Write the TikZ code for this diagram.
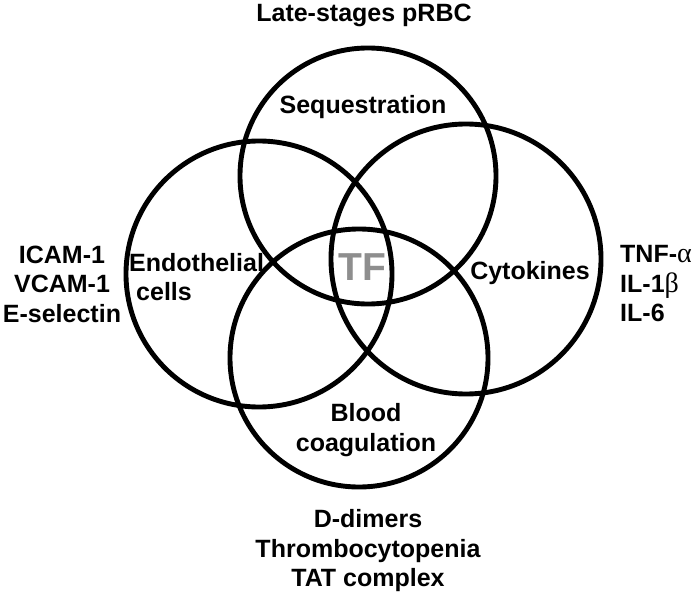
\documentclass[tikz,border=0pt]{standalone}
\usepackage{fontspec}
\setmainfont{Liberation Sans}
\newfontfamily\grkfont{Liberation Serif}
\definecolor{tfgray}{HTML}{8E8E8E}
\begin{document}
\begin{tikzpicture}[x=1pt,y=-1pt,
  ring/.style={draw=black,line width=4.9pt},
  lbl/.style={font=\fontsize{25}{29.5}\selectfont\bfseries,inner sep=0pt,align=center},
  tflbl/.style={font=\fontsize{39}{39}\selectfont\bfseries,text=tfgray,inner sep=0pt}]
\useasboundingbox (0,0) rectangle (693,599);
\draw[ring] (368,176) circle (128);
\draw[ring] (259,274) circle (133);
\draw[ring] (466,259) circle (135);
\draw[ring] (359,358) circle (129);
\node[lbl] (top) at (364,15) {Late-stages pRBC};
\node[lbl] (seq) at (363,107) {Sequestration};
\node[lbl,align=left,anchor=west] (endo) at (129,277) {Endothelial\\\hspace*{7pt}cells};
\node[tflbl] (tf) at (362,267) {TF};
\node[lbl] (cyto) at (530,273) {Cytokines};
\node[lbl] (left) at (62,284) {ICAM-1\\VCAM-1\\E-selectin};
\node[lbl,align=left,anchor=west] (right) at (620,284) {TNF-{\grkfont\mdseries\fontsize{28}{29.5}\selectfont α}\\IL-1{\grkfont\mdseries\fontsize{28}{29.5}\selectfont β}\\IL-6};
\node[lbl] (blood) at (366,430) {Blood\\coagulation};
\node[lbl] (bottom) at (368,551) {D-dimers\\Thrombocytopenia\\TAT complex};
\end{tikzpicture}
\end{document}
